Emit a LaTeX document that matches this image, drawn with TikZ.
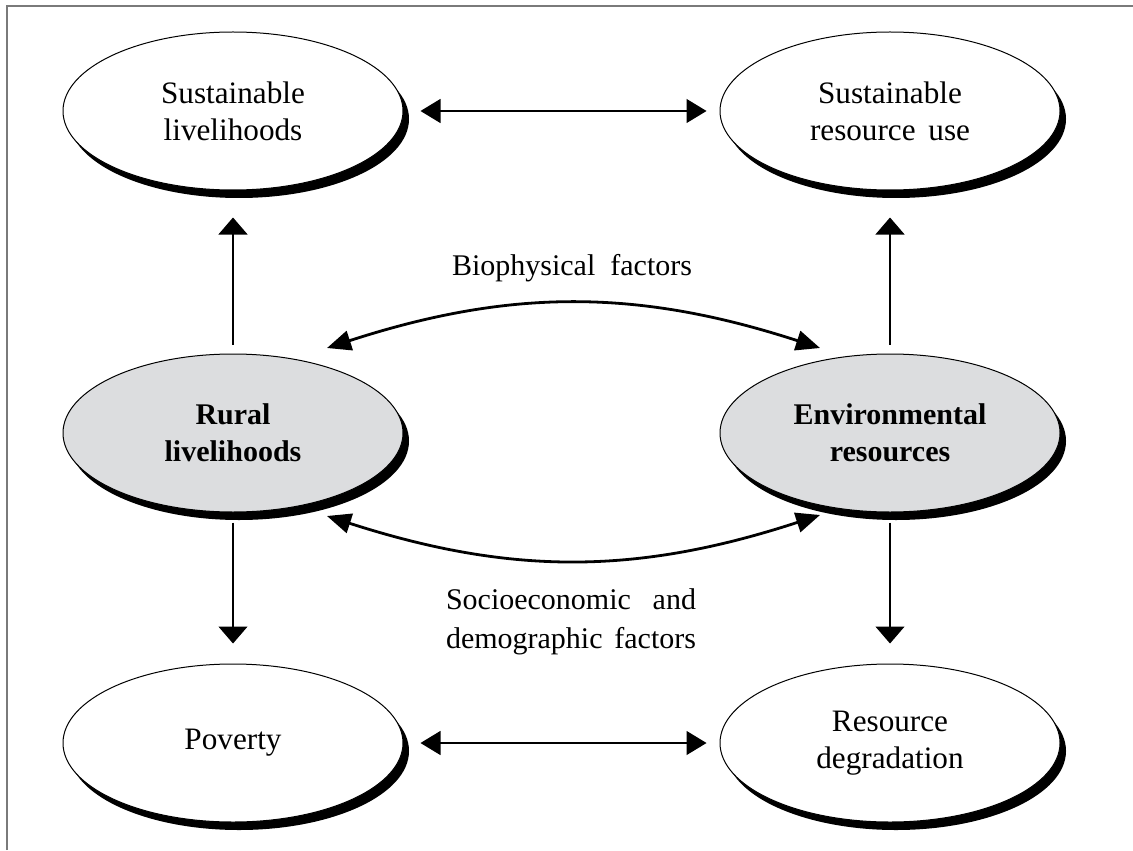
\documentclass[tikz,border=0pt]{standalone}
\usepackage{fontspec}
\setmainfont{Liberation Serif}
\usetikzlibrary{shapes.geometric,arrows.meta,shadows,calc}
\definecolor{coreGray}{HTML}{DCDDDF}
\definecolor{frameGray}{HTML}{7A7A7A}
\begin{document}
\begin{tikzpicture}[x=0.5pt,y=-0.5pt,
  box/.style={ellipse, draw=black, line width=0.5pt, fill=white,
    minimum width=170pt, minimum height=79pt, inner sep=0pt, align=center,
    font=\fontsize{15.6}{18.5}\selectfont,
    drop shadow={shadow xshift=3pt, shadow yshift=-4pt, fill=black, opacity=1}},
  core/.style={box, fill=coreGray, font=\fontsize{15}{18.5}\selectfont\bfseries},
  label/.style={align=center, inner sep=0pt, font=\fontsize{15}{19.5}\selectfont},
  hlink/.style={line width=0.6pt, {Triangle[length=10pt,width=12pt]}-{Triangle[length=10pt,width=12pt]}},
  vlink/.style={line width=0.6pt, -{Triangle[length=8.5pt,width=14.5pt]}},
  loop/.style={line width=1.4pt, {Triangle[length=12pt,width=10pt]}-{Triangle[length=12pt,width=10pt]}}
]
\useasboundingbox (0,0) rectangle (1133,850);
% frame
\draw[frameGray, line width=1pt] (6.5,850) -- (6.5,6.5) -- (1133,6.5);

% outcomes and core systems
\node[box]  (sl) at (233,111) {Sustainable\\livelihoods};
\node[box]  (sr) at (890,111) {Sustainable\\\makebox[80pt][s]{resource\hfill use}};
\node[core] (rl) at (233,433) {Rural\\livelihoods};
\node[core] (er) at (890,433) {Environmental\\resources};
\node[box]  (pv) at (233,743) {Poverty};
\node[box]  (rd) at (890,743) {Resource\\degradation};

% labels of the two linking processes
\node[label] (bio) at (572,268) {\makebox[120pt][s]{Biophysical\hfill factors}};
\node[label] (soc) at (571,622) {\makebox[125pt][s]{Socioeconomic\hfill and}\\\makebox[125pt][s]{demographic\hfill factors}};

% horizontal links
\draw[hlink, shorten <=8.5pt, shorten >=6.5pt] (sl.east) -- (sr.west);
\draw[hlink, shorten <=8.5pt, shorten >=6.5pt] (pv.east) -- (rd.west);

% vertical links
\draw[vlink, shorten <=4.5pt, shorten >=13.5pt] (rl.north) -- (sl.south);
\draw[vlink, shorten <=4.5pt, shorten >=13.5pt] (er.north) -- (sr.south);
\draw[vlink, shorten <=5pt, shorten >=10pt] (rl.south) -- (pv.north);
\draw[vlink, shorten <=5pt, shorten >=10pt] (er.south) -- (rd.north);

% curved two-way links between the core systems
\coordinate (bioL) at ($(rl)+(94,-85)$);
\coordinate (bioR) at ($(er)+(-70,-85)$);
\coordinate (socL) at ($(rl)+(94,83)$);
\coordinate (socR) at ($(er)+(-70,82)$);
\draw[loop] (bioL) to[bend left=18] (bioR);
\draw[loop] (socL) to[bend right=18] (socR);
\end{tikzpicture}
\end{document}
